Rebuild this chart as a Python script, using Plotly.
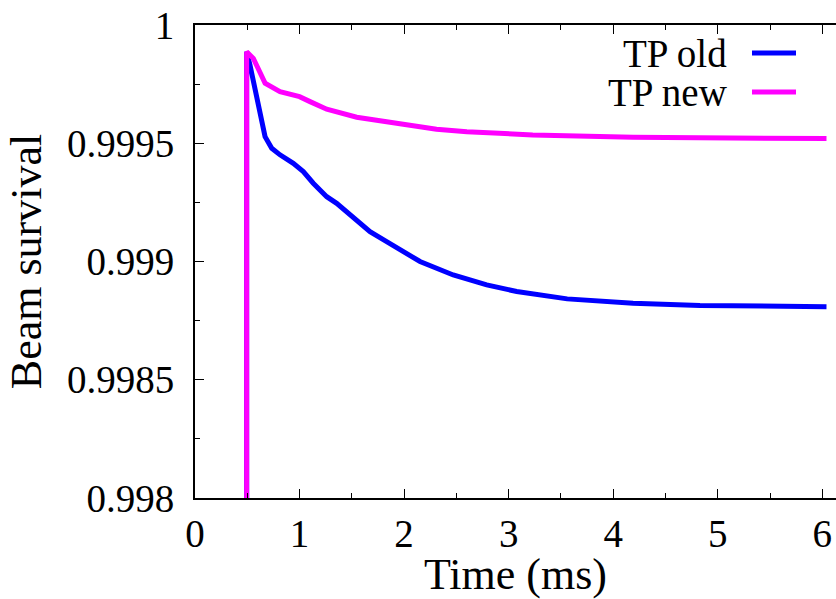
import plotly.graph_objects as go

# Data
old_t = [0.494, 0.494, 0.526, 0.574, 0.622, 0.67, 0.734, 0.813, 0.94, 1.036, 1.131,
         1.196, 1.26, 1.355, 1.514, 1.674, 1.833, 1.99, 2.152, 2.47, 2.79, 3.077,
         3.36, 3.56, 4.19, 4.83, 6.04]
old_v = [0.0, 0.999887, 0.999831, 0.999725, 0.999612, 0.999528, 0.999479, 0.999451,
         0.999415, 0.99938, 0.999331, 0.999303, 0.999274, 0.999246, 0.999183, 0.999126,
         0.999084, 0.999042, 0.999, 0.998943, 0.998901, 0.998873, 0.998852, 0.998842,
         0.998823, 0.998814, 0.998809]

new_t = [0.494, 0.494, 0.558, 0.67, 0.813, 1.0, 1.10, 1.26, 1.547, 1.865, 2.31, 2.6,
         3.23, 4.19, 5.15, 6.04]
new_v = [0.0, 0.999887, 0.999859, 0.999754, 0.999718, 0.999697, 0.999676, 0.999644,
         0.99961, 0.999587, 0.999559, 0.999549, 0.999535, 0.999525, 0.999521, 0.99952]

series_names = ["TP old", "TP new"]
series_colors = ["#0000ff", "#ff00ff"]

x_ticks = [0, 1, 2, 3, 4, 5, 6]
x_ticktext = ["0", "1", "2", "3", "4", "5", "6"]
y_ticks = [0.998, 0.9985, 0.999, 0.9995, 1.0]
y_ticktext = ["0.998", "0.9985", "0.999", "0.9995", "1"]

W, H = 836, 599
L, R, T, B = 195, 0, 25, 101
pw, ph = W - L - R, H - T - B

FONT = "Liberation Serif"

fig = go.Figure()
for t, v, name, col in [(old_t, old_v, series_names[0], series_colors[0]),
                        (new_t, new_v, series_names[1], series_colors[1])]:
    fig.add_trace(go.Scatter(x=t, y=v, mode="lines", name=name,
                             line=dict(color=col, width=5), showlegend=False))

# Manual legend (gnuplot style: text then sample on the right); pixel coords
def px2paper(x, y):
    return (x - L) / pw, (H - B - y) / ph

legend_y = [53, 92]
for name, col, yy in zip(series_names, series_colors, legend_y):
    tx, ty = px2paper(729, yy)
    fig.add_annotation(x=tx, y=ty, xref="paper", yref="paper", text=name,
                       showarrow=False, xanchor="right", yanchor="middle",
                       font=dict(family=FONT, size=39, color="black"))
    x0, y0 = px2paper(752, yy)
    x1, _ = px2paper(796, yy)
    fig.add_shape(type="line", xref="paper", yref="paper", x0=x0, x1=x1, y0=y0, y1=y0,
                  line=dict(color=col, width=5))

fig.update_layout(
    width=W, height=H,
    margin=dict(l=L, r=R, t=T, b=B),
    plot_bgcolor="white", paper_bgcolor="white",
    font=dict(family=FONT, size=39, color="black"),
)
fig.update_xaxes(
    range=[0, 6.131], tickvals=x_ticks, ticktext=x_ticktext,
    showgrid=False, zeroline=False,
    showline=True, linecolor="black", linewidth=2, mirror="ticks",
    ticks="inside", ticklen=9, tickwidth=1, tickcolor="black",
    minor=dict(ticks="inside", ticklen=5, tickwidth=1, tickcolor="black", dtick=0.5, tick0=0),
    tickfont=dict(family=FONT, size=39), ticklabeloverflow="allow",
    title=dict(text="Time (ms)", font=dict(family=FONT, size=44), standoff=11),
    automargin=False,
)
fig.update_yaxes(
    range=[0.998, 1.0], tickvals=y_ticks, ticktext=y_ticktext,
    showgrid=False, zeroline=False,
    showline=True, linecolor="black", linewidth=2, mirror=False,
    ticks="inside", ticklen=9, tickwidth=1, tickcolor="black",
    minor=dict(ticks="inside", ticklen=5, tickwidth=1, tickcolor="black", dtick=0.00025, tick0=0.998),
    tickfont=dict(family=FONT, size=39), ticklabelstandoff=11, ticklabeloverflow="allow",
    title=dict(text="Beam survival", font=dict(family=FONT, size=44), standoff=12),
    automargin=False,
)

fig.write_html(
    "out.html",
    config={"displayModeBar": False},
    post_script="document.body.style.margin='0';document.body.style.overflow='hidden';",
)
